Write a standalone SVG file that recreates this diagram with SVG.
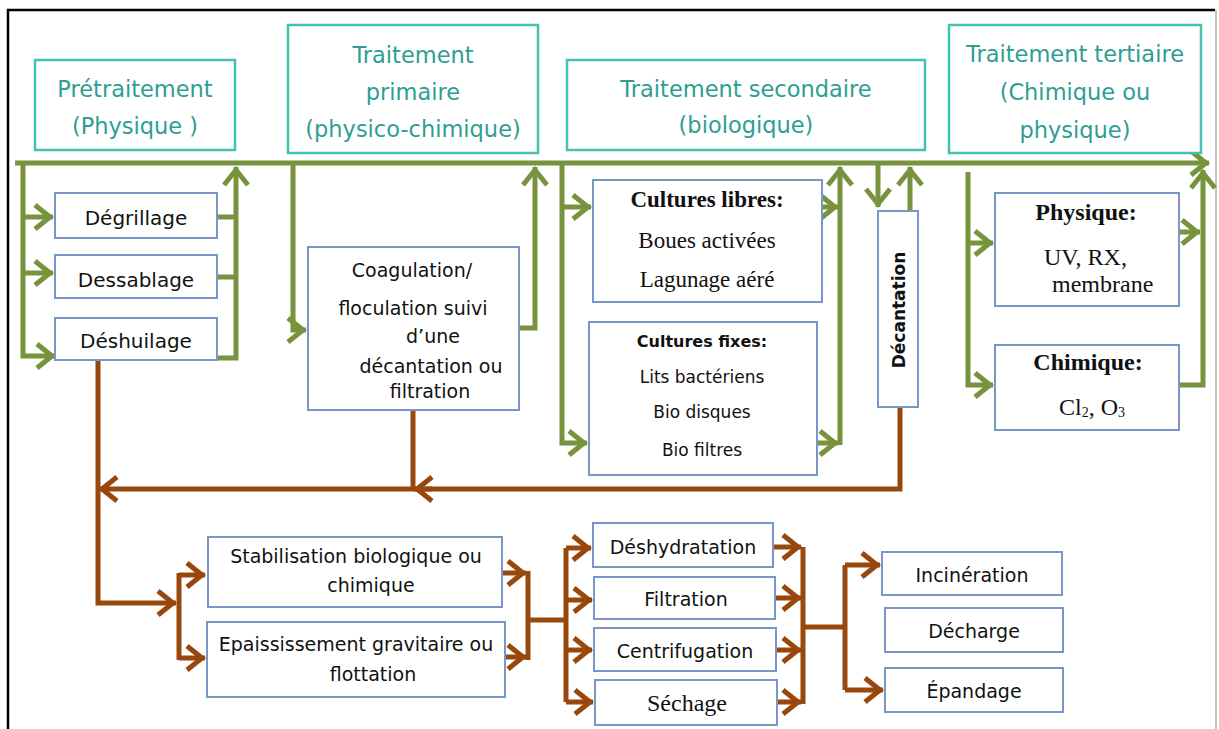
<svg xmlns="http://www.w3.org/2000/svg" width="1219" height="729" viewBox="0 0 1219 729">
<style>
.hdr {fill:#fff; stroke:#45c1b0; stroke-width:2.5}
.ht {font-family:"DejaVu Sans",sans-serif; font-size:22.5px; fill:#2e9e92; text-anchor:middle}
.box {fill:#fff; stroke:#7896c8; stroke-width:2}
.t {font-family:"DejaVu Sans",sans-serif; fill:#111; text-anchor:middle; font-size:19px}
.s {font-family:"Liberation Serif",serif; fill:#111; text-anchor:middle; font-size:23px}
.f16 {font-size:16px} .f17 {font-size:17px} .f20 {font-size:20px} .f24 {font-size:24px}
.bd {font-weight:bold}
.st {text-anchor:start}
.g {fill:none; stroke:#77933c; stroke-width:5}
.b {fill:none; stroke:#98480c; stroke-width:5}
.ga {marker-end:url(#mg)}
.ba {marker-end:url(#mb)}
</style>
<defs>
<marker id="mg" viewBox="-22 -16 30 32" refX="3" refY="0" markerWidth="30" markerHeight="32" markerUnits="userSpaceOnUse" orient="auto"><path d="M-15,-12 L0,0 L-15,12" fill="none" stroke="#77933c" stroke-width="5"/></marker>
<marker id="mb" viewBox="-22 -16 30 32" refX="3" refY="0" markerWidth="30" markerHeight="32" markerUnits="userSpaceOnUse" orient="auto"><path d="M-15,-12 L0,0 L-15,12" fill="none" stroke="#98480c" stroke-width="5"/></marker>
</defs>
<rect width="1219" height="729" fill="#fff"/>
<path d="M8,740 V10 H1215" fill="none" stroke="#000" stroke-width="2.5"/>
<path d="M1216,10 V729" fill="none" stroke="#b0b0b0" stroke-width="1.5"/>

<g id="connectors">
  <g id="water">
    <path class="g ga" d="M15,163 H1209"/>
    <path class="g ga" d="M23,163 V356 H55"/>
    <path class="g ga" d="M23,217 H53"/>
    <path class="g ga" d="M23,273 H53"/>
    <path class="g" d="M217,217 H236 M217,277 H236"/>
    <path class="g ga" d="M217,358 H236 V167"/>
    <path class="g ga" d="M293,163 V330 H306"/>
    <path class="g ga" d="M519,328 H535 V167"/>
    <path class="g ga" d="M562,163 V443 H587"/>
    <path class="g ga" d="M562,207 H591"/>
    <path class="g ga" d="M822,207 H838"/>
    <path class="g ga" d="M817,443 H838"/>
    <path class="g ga" d="M840,445 V167"/>
    <path class="g ga" d="M878,163 V207"/>
    <path class="g ga" d="M910,211 V167"/>
    <path class="g ga" d="M968,172 V385 H993"/>
    <path class="g ga" d="M968,243 H993"/>
    <path class="g ga" d="M1179,232 H1200"/>
    <path class="g ga" d="M1179,385 H1203 V170"/>
  </g>
  <g id="sludge">
    <path class="b ba" d="M98,360 V603 H176"/>
    <path class="b ba" d="M900,407 V489 H99"/>
    <path class="b" d="M413,411 V489"/>
    <path class="b ba" d="M432,489 H414"/>
    <path class="b" d="M179,573 V660"/>
    <path class="b ba" d="M179,575 H205"/>
    <path class="b ba" d="M179,658 H205"/>
    <path class="b ba" d="M502,573 H526"/>
    <path class="b ba" d="M505,657 H526"/>
    <path class="b" d="M528,571 V660 M528,620 H566"/>
    <path class="b" d="M566,548 V702"/>
    <path class="b ba" d="M566,548 H591"/>
    <path class="b ba" d="M566,600 H592"/>
    <path class="b ba" d="M566,650 H592"/>
    <path class="b ba" d="M566,702 H593"/>
    <path class="b ba" d="M773,547 H801"/>
    <path class="b ba" d="M775,598 H801"/>
    <path class="b ba" d="M776,650 H801"/>
    <path class="b ba" d="M777,702 H801"/>
    <path class="b" d="M803,547 V704 M803,627 H845 M845,565 V690"/>
    <path class="b ba" d="M845,565 H880"/>
    <path class="b ba" d="M845,690 H883"/>
  </g>
</g>

<g id="h-pretraitement"><rect class="hdr" x="35" y="60" width="200" height="90"/>
<text class="ht" x="135" y="97">Prétraitement</text><text class="ht" x="135" y="134">(Physique )</text></g>
<g id="h-primaire"><rect class="hdr" x="288" y="25" width="250" height="128"/>
<text class="ht" x="413" y="63">Traitement</text><text class="ht" x="413" y="100">primaire</text><text class="ht" x="413" y="137">(physico-chimique)</text></g>
<g id="h-secondaire"><rect class="hdr" x="567" y="60" width="358" height="90"/>
<text class="ht" x="746" y="97">Traitement secondaire</text><text class="ht" x="746" y="133">(biologique)</text></g>
<g id="h-tertiaire"><rect class="hdr" x="949" y="25" width="252" height="128"/>
<text class="ht" x="1075" y="62">Traitement tertiaire</text><text class="ht" x="1075" y="100">(Chimique ou</text><text class="ht" x="1075" y="138">physique)</text></g>

<g id="degrillage"><rect class="box" x="55" y="193" width="162" height="45"/><text class="t f20" x="136" y="225">Dégrillage</text></g>
<g id="dessablage"><rect class="box" x="55" y="255" width="162" height="43"/><text class="t f20" x="136" y="287">Dessablage</text></g>
<g id="deshuilage"><rect class="box" x="55" y="318" width="162" height="42"/><text class="t f20" x="136" y="348">Déshuilage</text></g>

<g id="coagulation"><rect class="box" x="308" y="247" width="211" height="163"/>
<text class="t" x="412" y="277">Coagulation/</text>
<text class="t" x="413" y="315">floculation suivi</text>
<text class="t" x="433" y="343">d’une</text>
<text class="t" x="431" y="373">décantation ou</text>
<text class="t" x="430" y="398">filtration</text></g>

<g id="cultures-libres"><rect class="box" x="593" y="180" width="229" height="122"/>
<text class="s bd" x="707" y="207">Cultures libres:</text>
<text class="s" x="707" y="248">Boues activées</text>
<text class="s" x="707" y="287">Lagunage aéré</text></g>

<g id="cultures-fixes"><rect class="box" x="589" y="322" width="228" height="153"/>
<text class="t f16 bd" x="702" y="347">Cultures fixes:</text>
<text class="t f17" x="702" y="383">Lits bactériens</text>
<text class="t f17" x="702" y="418">Bio disques</text>
<text class="t f17" x="702" y="456">Bio filtres</text></g>

<g id="decantation"><rect class="box" x="878" y="211" width="40" height="196"/>
<text class="t f17 bd" transform="translate(905,310) rotate(-90)">Décantation</text></g>

<g id="physique"><rect class="box" x="995" y="193" width="184" height="113"/>
<text class="s f24 bd" x="1086" y="220">Physique:</text>
<text class="s f24 st" x="1044" y="265">UV, RX,</text>
<text class="s f24 st" x="1052" y="292">membrane</text></g>

<g id="chimique"><rect class="box" x="995" y="345" width="184" height="85"/>
<text class="s f24 bd" x="1088" y="370">Chimique:</text>
<text class="s f24" x="1092" y="415">Cl<tspan style="font-size:14px" dy="2">2</tspan><tspan dy="-2">, O</tspan><tspan style="font-size:14px" dy="2">3</tspan></text></g>

<g id="stabilisation"><rect class="box" x="208" y="537" width="294" height="70"/>
<text class="t" x="356" y="563">Stabilisation biologique ou</text>
<text class="t" x="371" y="592">chimique</text></g>

<g id="epaississement"><rect class="box" x="207" y="622" width="298" height="75"/>
<text class="t" x="356" y="651">Epaississement gravitaire ou</text>
<text class="t" x="373" y="681">flottation</text></g>

<g id="deshydratation"><rect class="box" x="593" y="523" width="180" height="44"/><text class="t" x="683" y="554">Déshydratation</text></g>
<g id="filtration"><rect class="box" x="594" y="577" width="181" height="42"/><text class="t" x="686" y="606">Filtration</text></g>
<g id="centrifugation"><rect class="box" x="594" y="628" width="182" height="43"/><text class="t" x="685" y="658">Centrifugation</text></g>
<g id="sechage"><rect class="box" x="595" y="680" width="182" height="45"/><text class="s f24" x="687" y="711">Séchage</text></g>

<g id="incineration"><rect class="box" x="882" y="552" width="180" height="43"/><text class="t" x="972" y="582">Incinération</text></g>
<g id="decharge"><rect class="box" x="885" y="608" width="178" height="44"/><text class="t" x="974" y="638">Décharge</text></g>
<g id="epandage"><rect class="box" x="885" y="668" width="178" height="44"/><text class="t" x="974" y="698">Épandage</text></g>
</svg>
